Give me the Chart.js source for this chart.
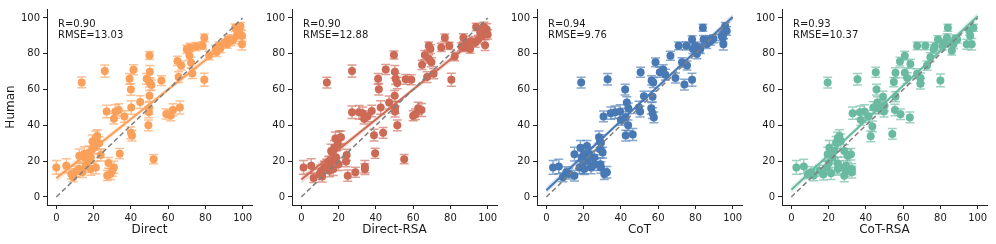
<!DOCTYPE html>
<html>
<head>
<meta charset="utf-8">
<script src="https://cdn.jsdelivr.net/npm/chart.js@4.4.1/dist/chart.umd.min.js"></script>
<style>
  body { margin: 0; background: #fff; width: 996px; height: 244px; overflow: hidden; position: relative; }
  .panel { position: absolute; top: 0; }
</style>
</head>
<body>
<canvas id="c0" class="panel" style="left:0px" width="256" height="244"></canvas>
<canvas id="c1" class="panel" style="left:245px" width="256" height="244"></canvas>
<canvas id="c2" class="panel" style="left:490px" width="256" height="244"></canvas>
<canvas id="c3" class="panel" style="left:735px" width="256" height="244"></canvas>
<script>
// ---- data ----
const tickVals = [0, 20, 40, 60, 80, 100];
const identity = [0, 100];
const fitX = [0, 100];
const bandX = [0, 50, 100];

const panelNames = ['Direct', 'Direct-RSA', 'CoT', 'CoT-RSA'];
const statR = ['0.90', '0.90', '0.94', '0.93'];
const statRmse = ['13.03', '12.88', '9.76', '10.37'];

// Direct
const directX = [0, 5.3, 9, 13.6, 26, 50, 41.4, 39.3, 40, 48.5,
  50, 50.2, 51, 56.4, 65, 67, 65.6, 70, 71.6, 75,
  78.5, 79.4, 71.4, 72.3, 73, 79.4, 82, 85.5, 87.3, 90,
  93.5, 96, 98.8, 99.6, 99.6, 98, 95, 91.7, 27, 31.7,
  33.5, 30.9, 36.5, 40.2, 45, 50, 49.7, 49.7, 49.4, 40,
  40.6, 34, 52.2, 59, 61.4, 62.6, 66.3, 12.3, 15, 19.4,
  21.2, 22, 20.3, 23, 17.3, 15.9, 18.5, 21.2, 23.8, 28,
  27.3, 29, 30.9, 30, 10.6, 12.3, 8, 14, 15.5, 17.6,
  18.5, 19.8, 88, 92, 97, 86];
const directY = [16.5, 17.4, 11, 64, 70.3, 79, 71, 66, 60, 66,
  64, 70, 62.5, 65, 76, 73.4, 67, 82.5, 83.5, 84,
  84.5, 89, 79, 75, 69, 65.5, 79, 82.5, 84.5, 86,
  87, 94.5, 95.4, 90, 85.3, 92, 88, 85.3, 47.7, 47.7,
  48.6, 43.7, 45, 50, 53, 56.5, 49.5, 47.3, 40, 35.8,
  34.3, 24.2, 21.1, 46.4, 45.5, 48.6, 50, 23, 24, 31,
  33, 34, 27.5, 30, 20, 17.4, 15.6, 16.5, 23.5, 19,
  12, 12.8, 16.5, 14.7, 14.3, 15.6, 12.8, 13.8, 22, 24.8,
  22, 27.5, 83, 88, 90.5, 81];
const directErr = [3.8, 4.0, 2.5, 3.0, 3.4, 2.2, 2.8, 3.0, 3.2, 3.0,
  2.6, 3.5, 2.8, 2.7, 2.6, 2.5, 3.0, 2.2, 2.4, 2.3,
  2.0, 2.1, 2.5, 3.0, 2.8, 3.6, 2.4, 2.2, 2.0, 2.3,
  2.5, 2.1, 2.0, 3.0, 3.2, 2.6, 2.4, 2.2, 3.5, 3.8,
  3.4, 3.0, 3.2, 3.8, 3.6, 3.0, 3.2, 3.0, 3.0, 3.3,
  3.0, 2.8, 2.6, 2.8, 3.0, 3.4, 3.6, 3.8, 4.0, 3.6,
  3.8, 3.5, 3.2, 3.6, 4.0, 3.8, 3.5, 3.6, 3.4, 3.0,
  2.8, 3.0, 3.4, 3.2, 3.0, 3.2, 2.8, 3.0, 3.4, 3.6,
  3.2, 3.4, 2.4, 2.6, 2.2, 2.6];
const directFit = [10.5, 93];
const directLo = [8.2, 50.8, 90.8];
const directHi = [12.8, 52.7, 95.2];

// Direct-RSA
const drsaX = [1.2, 5.3, 6.6, 13.7, 27.2, 49.7, 45.3, 41.2, 41.6, 50.2,
  50.6, 51.5, 56, 59, 27.2, 31, 32.9, 33.7, 37.8, 35.5,
  42.6, 47.1, 50.1, 50.3, 50.3, 51.5, 39, 43.9, 39.6, 55.2,
  60, 61.3, 62.7, 64.5, 64.8, 66.3, 67.5, 68.4, 69.3, 69.8,
  68.4, 71, 75.1, 77, 79.4, 80.5, 82.3, 87, 88, 90.6,
  93.3, 93.8, 95, 97, 98.6, 99.5, 100, 88.8, 16, 17.8,
  18.3, 20.4, 21.3, 19.5, 16.9, 14.7, 18.7, 20, 17.2, 15.1,
  10.7, 9.8, 11.2, 12.4, 24.3, 24, 24.9, 29, 34.1, 34.1,
  13.7, 96, 91, 86, 98];
const drsaY = [16.5, 17.4, 10.6, 63.9, 70.3, 79.3, 71.2, 66, 60.2, 70,
  66, 63.7, 65.7, 65.5, 47.3, 47.3, 46.8, 43.7, 48, 45,
  50, 52.8, 56.5, 50, 47.7, 40, 34.5, 35.8, 24.4, 21.1,
  45.3, 46.2, 49.5, 48.6, 73.8, 79.3, 67, 84.4, 82.6, 75.2,
  77, 68.8, 83.5, 89, 84.4, 65.5, 78.5, 89, 83.5, 82.6,
  86.2, 95, 88, 90, 84.8, 93.6, 90.8, 86, 25.7, 27.5,
  32.7, 33, 33.4, 29.4, 20.2, 18.7, 22, 18.3, 15.6, 14.7,
  14.7, 12.8, 11.4, 16.5, 23.5, 19.8, 11.9, 13.8, 15.6, 16.9,
  17.4, 92, 87, 84, 95];
const drsaErr = [3.8, 4.0, 2.5, 3.0, 3.4, 2.2, 2.8, 3.0, 3.2, 3.5,
  3.0, 3.2, 2.7, 2.8, 3.5, 3.8, 3.4, 3.0, 3.2, 3.0,
  3.8, 3.6, 3.0, 3.2, 3.0, 3.0, 3.3, 3.0, 2.8, 2.6,
  2.8, 3.0, 3.4, 3.6, 2.6, 2.5, 3.0, 2.2, 2.4, 2.5,
  2.3, 2.8, 2.3, 2.1, 2.0, 3.6, 2.4, 2.2, 2.2, 2.3,
  2.5, 2.1, 2.4, 2.0, 3.0, 3.2, 2.6, 2.2, 3.8, 4.0,
  3.6, 3.8, 3.5, 3.2, 3.6, 4.0, 3.8, 3.5, 3.6, 3.4,
  3.0, 2.8, 3.0, 3.4, 3.2, 3.0, 3.2, 2.8, 3.0, 3.4,
  3.6, 2.4, 2.6, 2.2, 2.6];
const drsaFit = [9.7, 93.6];
const drsaLo = [7.4, 50.7, 91.4];
const drsaHi = [12.0, 52.6, 95.8];

// CoT
const cotX = [3.6, 6.7, 8.9, 10.7, 18.7, 32.9, 50.6, 42.3, 43.2, 44,
  42.6, 43.9, 42.6, 46.4, 40, 34.6, 36.9, 39.6, 30.7, 49.7,
  50.3, 52.4, 57, 56.3, 57, 57.7, 56.5, 57.4, 58.6, 60.9,
  62.7, 63.9, 66.6, 69.3, 71, 72.8, 74.1, 75.1, 75.5, 78.2,
  78.7, 78.2, 80, 80.8, 82.6, 84, 84.4, 86.1, 87.9, 89.7,
  94.1, 95, 96, 96.8, 94.7, 15.1, 15.1, 18.3, 19.5, 19,
  20.4, 21.8, 21.3, 22.2, 23.1, 24, 25.8, 28.3, 28.8, 29.3,
  28.8, 29, 29.3, 31.1, 32.5, 30.2, 17.8, 20.4, 82, 88,
  95, 12, 20, 26];
const cotY = [16.5, 17, 11, 13.8, 63.9, 65.7, 69.7, 60, 52.8, 49.5,
  44.4, 40, 34.3, 34.9, 43, 46.8, 47.3, 47.7, 45, 50,
  47.7, 56.3, 56, 49.5, 46.8, 44.4, 65.1, 63.9, 75.2, 69.7,
  71.2, 68.3, 78.9, 66.4, 84.4, 75.2, 62.8, 84.4, 73.4, 88,
  82.6, 65.5, 84.4, 79.8, 82.6, 94.5, 88, 85.3, 88, 88.4,
  89.9, 85.3, 95.4, 92.7, 89, 23.9, 11.9, 27.5, 16.5, 22,
  24.2, 28.4, 22, 20.2, 23.9, 16.5, 22, 33.4, 31.2, 30.3,
  26.6, 18.3, 16.5, 12.8, 13.8, 24.8, 16.5, 15.6, 83, 87,
  91, 13, 20, 18];
const cotErr = [3.8, 4.0, 2.5, 3.0, 3.0, 3.2, 2.8, 3.0, 3.2, 3.0,
  3.2, 3.0, 3.0, 3.3, 3.0, 3.4, 3.5, 3.8, 3.0, 3.4,
  3.0, 2.8, 3.0, 3.2, 3.0, 3.0, 2.6, 2.8, 2.4, 2.8,
  2.6, 3.0, 2.5, 2.8, 2.2, 2.6, 3.0, 2.3, 2.5, 2.1,
  2.4, 3.6, 2.2, 2.6, 2.4, 2.0, 2.2, 2.3, 2.1, 2.2,
  2.5, 3.2, 2.0, 2.4, 2.6, 3.8, 3.0, 4.0, 3.6, 3.8,
  3.5, 3.2, 3.6, 4.0, 3.8, 3.5, 3.6, 3.4, 3.6, 3.2,
  3.0, 3.4, 3.2, 3.0, 3.2, 3.0, 3.4, 3.0, 2.4, 2.2,
  2.6, 3.0, 3.4, 3.2];
const cotFit = [3.8, 100.5];
const cotLo = [1.9, 51.4, 98.6];
const cotHi = [5.7, 52.9, 102.4];

// CoT-RSA
const crsaX = [2.7, 6.7, 8.9, 10.7, 19.5, 35.5, 45.3, 45.7, 46.2, 49.2,
  32.9, 36.8, 39.2, 37.3, 41.4, 43.5, 42.6, 47, 49.7, 54.2,
  55.6, 58.6, 63.6, 55, 55.9, 55.9, 58.3, 60.9, 60.9, 62.2,
  63.9, 67.5, 67.5, 69.3, 69.3, 71.9, 72.8, 74.6, 76.4, 78.7,
  80, 81.2, 84, 83.5, 86.1, 87, 87.9, 94.1, 96, 96.8,
  97.7, 95.6, 17.2, 19, 19.5, 20.4, 22.2, 23.1, 24, 24.9,
  25.8, 26.6, 24.9, 24.9, 25.8, 28.4, 30.2, 32, 29.3, 28.4,
  32.5, 32.5, 29.3, 15.1, 21.3, 82, 89, 77, 12, 20,
  50, 44];
const crsaY = [16.5, 17, 12.8, 13.8, 63.9, 65.7, 69.7, 60, 52.8, 56,
  46.8, 47.3, 47.7, 43, 45, 39.4, 33.9, 49.5, 47.7, 35.2,
  48.6, 46.2, 44.4, 64.2, 69.4, 56, 75.6, 78.9, 69.4, 66.4,
  74.3, 84.4, 68.8, 66.4, 63.3, 84.4, 73.4, 78, 82.6, 88,
  65.1, 84.4, 94.5, 89, 81.7, 85.3, 88.4, 85.3, 90, 85.3,
  94.5, 92.7, 12.5, 16.5, 23.9, 27.5, 22, 25.7, 30.3, 33,
  33.9, 31.2, 18.7, 15.6, 16.5, 25.7, 23, 23.9, 17.4, 11.9,
  13.8, 15.6, 14.7, 14.7, 13.2, 86, 88, 84, 12, 19,
  51, 50];
const crsaErr = [3.8, 4.0, 2.5, 3.0, 3.0, 3.2, 2.8, 3.0, 3.2, 3.0,
  3.4, 3.5, 3.8, 3.0, 3.4, 3.0, 3.0, 3.2, 3.0, 3.0,
  3.2, 3.0, 3.0, 2.6, 2.8, 2.8, 2.4, 2.5, 2.8, 3.0,
  2.6, 2.2, 2.8, 2.8, 3.0, 2.2, 2.6, 2.5, 2.3, 2.1,
  3.6, 2.2, 2.0, 2.2, 2.4, 2.3, 2.1, 2.8, 3.0, 3.2,
  2.0, 2.4, 3.0, 3.6, 3.8, 4.0, 3.6, 3.8, 3.5, 3.2,
  3.6, 4.0, 3.8, 3.5, 3.6, 3.4, 3.6, 3.2, 3.0, 3.4,
  3.2, 3.0, 3.2, 3.0, 3.4, 2.4, 2.2, 2.4, 3.0, 3.4,
  3.0, 3.2];
const crsaFit = [4.0, 101];
const crsaLo = [2.0, 51.7, 99.0];
const crsaHi = [6.0, 53.3, 103.0];

// ---- styles ----
const FONT = '"DejaVu Sans", sans-serif';
const INK = '#1a1a1a';
const panels = [
  { x: directX, y: directY, err: directErr, fit: directFit, lo: directLo, hi: directHi,
    color: 'rgb(250,160,90)', errColor: 'rgba(250,160,90,0.65)', band: 'rgba(250,160,90,0.22)' },
  { x: drsaX, y: drsaY, err: drsaErr, fit: drsaFit, lo: drsaLo, hi: drsaHi,
    color: 'rgb(204,106,86)', errColor: 'rgba(204,106,86,0.65)', band: 'rgba(204,106,86,0.22)' },
  { x: cotX, y: cotY, err: cotErr, fit: cotFit, lo: cotLo, hi: cotHi,
    color: 'rgb(72,121,180)', errColor: 'rgba(72,121,180,0.65)', band: 'rgba(72,121,180,0.22)' },
  { x: crsaX, y: crsaY, err: crsaErr, fit: crsaFit, lo: crsaLo, hi: crsaHi,
    color: 'rgb(106,186,161)', errColor: 'rgba(106,186,161,0.65)', band: 'rgba(106,186,161,0.22)' }
];

// vertical error bars with caps, drawn under the markers
const errorBars = {
  id: 'errorBars',
  beforeDatasetsDraw(chart) {
    const { ctx, scales: { x, y } } = chart;
    chart.data.datasets.forEach(ds => {
      if (!ds.err) return;
      ctx.save();
      ctx.strokeStyle = ds.errColor;
      ctx.lineWidth = 1.5;
      ds.data.forEach((p, i) => {
        const px = x.getPixelForValue(p.x);
        const y0 = y.getPixelForValue(p.y - ds.err[i]);
        const y1 = y.getPixelForValue(p.y + ds.err[i]);
        ctx.beginPath();
        ctx.moveTo(px, y0); ctx.lineTo(px, y1);
        ctx.moveTo(px - 4.5, y0); ctx.lineTo(px + 4.5, y0);
        ctx.moveTo(px - 4.5, y1); ctx.lineTo(px + 4.5, y1);
        ctx.stroke();
      });
      ctx.restore();
    });
  }
};

// R / RMSE text in the top-left corner
const statText = {
  id: 'statText',
  afterDraw(chart) {
    const idx = chart.options.plugins.statText.idx;
    const { ctx, chartArea } = chart;
    ctx.save();
    ctx.font = '10px ' + FONT;
    ctx.fillStyle = INK;
    ctx.textBaseline = 'alphabetic';
    ctx.fillText('R=' + statR[idx], chartArea.left + 11, chartArea.top + 18);
    ctx.fillText('RMSE=' + statRmse[idx], chartArea.left + 11, chartArea.top + 29);
    ctx.restore();
  }
};

function toPts(xs, ys) { return xs.map((v, i) => ({ x: v, y: ys[i] })); }

panels.forEach((p, idx) => {
  new Chart(document.getElementById('c' + idx), {
    type: 'scatter',
    data: {
      datasets: [
        { type: 'line', data: toPts(identity, identity), borderColor: '#7f7f7f', borderDash: [5, 3],
          borderWidth: 1.5, pointRadius: 0, fill: false, order: 0 },
        { type: 'line', data: toPts(fitX, p.fit), borderColor: p.color, borderWidth: 2,
          pointRadius: 0, fill: false, order: 1 },
        { type: 'line', data: toPts(bandX, p.lo), borderWidth: 0, borderColor: 'rgba(0,0,0,0)',
          pointRadius: 0, fill: false, order: 5 },
        { type: 'line', data: toPts(bandX, p.hi), borderWidth: 0, borderColor: 'rgba(0,0,0,0)',
          pointRadius: 0, fill: '-1', backgroundColor: p.band, order: 4 },
        { data: toPts(p.x, p.y), err: p.err, errColor: p.errColor, pointRadius: 4,
          backgroundColor: p.color, borderWidth: 0, order: 3 }
      ]
    },
    options: {
      responsive: false,
      animation: false,
      events: [],
      layout: { padding: { left: 0, right: 1, top: 5, bottom: 0 } },
      plugins: { legend: { display: false }, tooltip: { enabled: false }, statText: { idx } },
      scales: {
        x: {
          type: 'linear', min: -5, max: 105,
          afterBuildTicks: s => { s.ticks = tickVals.map(v => ({ value: v })); },
          afterFit: s => { s.height = 39; },
          grid: { display: true, drawOnChartArea: false, tickLength: 4, color: '#222', lineWidth: 1 },
          border: { display: true, color: '#222', width: 1 },
          ticks: { color: INK, font: { family: FONT, size: 10 }, padding: 3, maxRotation: 0, autoSkip: false },
          title: { display: true, text: panelNames[idx], color: INK, font: { family: FONT, size: 12 },
                   padding: { top: 0, bottom: 7 } }
        },
        y: {
          type: 'linear', min: -4.5, max: 105,
          afterBuildTicks: s => { s.ticks = tickVals.map(v => ({ value: v })); },
          afterFit: s => { s.width = 47; },
          grid: { display: true, drawOnChartArea: false, tickLength: 4, color: '#222', lineWidth: 1 },
          border: { display: true, color: '#222', width: 1 },
          ticks: { color: INK, font: { family: FONT, size: 10 }, padding: 3, autoSkip: false },
          title: { display: idx === 0, text: 'Human', color: INK, font: { family: FONT, size: 12 },
                   padding: { top: 4, bottom: 0 } }
        }
      }
    },
    plugins: [errorBars, statText]
  });
});
</script>
</body>
</html>
